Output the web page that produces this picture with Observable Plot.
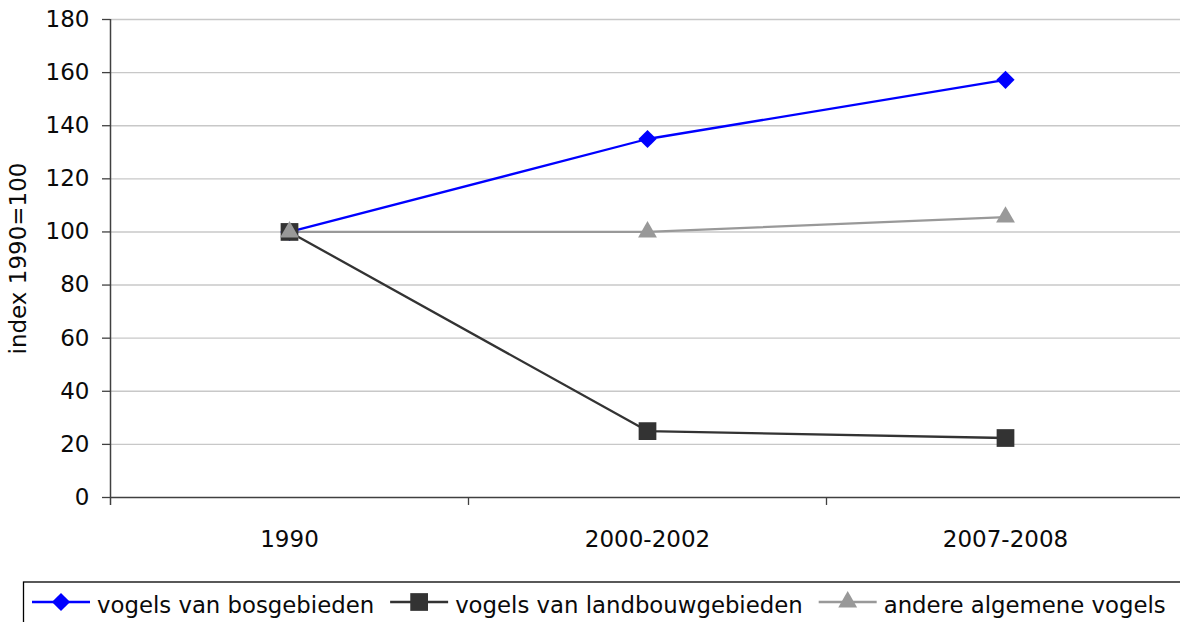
<!DOCTYPE html>
<html>
<head>
<meta charset="utf-8">
<script src="https://cdn.jsdelivr.net/npm/d3@7"></script>
<script src="https://cdn.jsdelivr.net/npm/@observablehq/plot@0.6"></script>
<style>
  html, body { margin: 0; padding: 0; background: #fff; width: 1180px; height: 622px; overflow: hidden; }
  body { font-family: "DejaVu Sans", sans-serif; position: relative; }
  #chart { position: absolute; left: 0; top: 0; }
  #chart svg text { font-size: 23px !important; font-family: "DejaVu Sans", sans-serif; fill: #0a0a0a; }
  #legend { position: absolute; left: 0; top: 570px; }
</style>
</head>
<body>
<div id="chart"></div>
<svg id="legend" width="1180" height="52"></svg>
<script>
const categories = ["1990", "2000-2002", "2007-2008"];
const seriesNames = ["vogels van bosgebieden", "vogels van landbouwgebieden", "andere algemene vogels"];
const bos = [100, 135, 157.3];
const landbouw = [100, 25, 22.4];
const andere = [100, 100, 105.6];
const yTicks = [0, 20, 40, 60, 80, 100, 120, 140, 160, 180];
const yLabel = "index 1990=100";
const colors = ["#0000ff", "#333333", "#999999"];
const symbols = ["diamond2", "square", "triangle"];
const symbolR = [8.2, 10, 7];

const values = [bos, landbouw, andere];
const data = [];
seriesNames.forEach((s, i) => categories.forEach((c, j) => data.push({series: s, idx: i, cat: c, value: values[i][j]})));

const W = 1180, H = 570;
const left = 110, plotRight = 1184;
const step = (plotRight - left) / categories.length;
const axisColor = "#404040";

const chart = Plot.plot({
  width: W,
  height: H,
  marginLeft: left,
  marginRight: 0,
  marginTop: 19,
  marginBottom: 73,
  style: {fontFamily: "DejaVu Sans, sans-serif", fontSize: "23px", color: "#0a0a0a", background: "#fff", overflow: "visible"},
  x: {type: "point", domain: categories, range: [left, plotRight], padding: 0.5, label: null},
  y: {domain: [0, 180], ticks: yTicks, label: null},
  color: {domain: seriesNames, range: colors},
  symbol: {domain: seriesNames, range: symbols},
  marks: [
    Plot.ruleY(yTicks.filter(d => d > 0), {y: d => d, stroke: "#c8c8c8", strokeWidth: 1.4}),
    Plot.axisY({ticks: yTicks, tickSize: 8, tickPadding: 13, stroke: axisColor, strokeWidth: 1.3,
      label: yLabel, labelAnchor: "center", labelOffset: 101, labelArrow: false}),
    Plot.ruleX([categories[0]], {x: d => d, dx: -step / 2, y1: -3, y2: 180, stroke: axisColor, strokeWidth: 1.5}),
    Plot.ruleY([0], {stroke: axisColor, strokeWidth: 1.5}),
    Plot.ruleX(categories.slice(1), {x: d => d, dx: -step / 2, y1: 0, y2: -3, stroke: axisColor, strokeWidth: 1.3}),
    Plot.axisX({tickSize: 0, tickPadding: 33, label: null}),
    Plot.line(data, {x: "cat", y: "value", z: "series", stroke: "series", strokeWidth: 2.3}),
    ...seriesNames.map((s, i) =>
      Plot.dot(data.filter(d => d.idx === i), {x: "cat", y: "value", symbol: "series", fill: "series", stroke: "none", r: symbolR[i]}))
  ]
});
document.getElementById("chart").appendChild(chart);

// Legend
const lg = d3.select("#legend");
lg.append("rect").attr("x", 23.5).attr("y", 12).attr("width", 1200).attr("height", 60)
  .attr("fill", "none").attr("stroke", "#000").attr("stroke-width", 1.3);
let x = 32;
const lineY = 32, baseY = 43;
seriesNames.forEach((s, i) => {
  lg.append("line").attr("x1", x).attr("x2", x + 58).attr("y1", lineY).attr("y2", lineY)
    .attr("stroke", colors[i]).attr("stroke-width", 2.3);
  const sym = [d3.symbolDiamond2, d3.symbolSquare, d3.symbolTriangle][i];
  lg.append("path").attr("transform", `translate(${x + 29},${lineY})`)
    .attr("d", d3.symbol(sym, symbolR[i] * symbolR[i] * Math.PI)())
    .attr("fill", colors[i]);
  const t = lg.append("text").attr("x", x + 65).attr("y", baseY).text(s)
    .attr("font-family", "DejaVu Sans, sans-serif").attr("font-size", 22.8).attr("fill", "#0a0a0a");
  x = x + 65 + t.node().getComputedTextLength() + 16;
});
</script>
</body>
</html>
